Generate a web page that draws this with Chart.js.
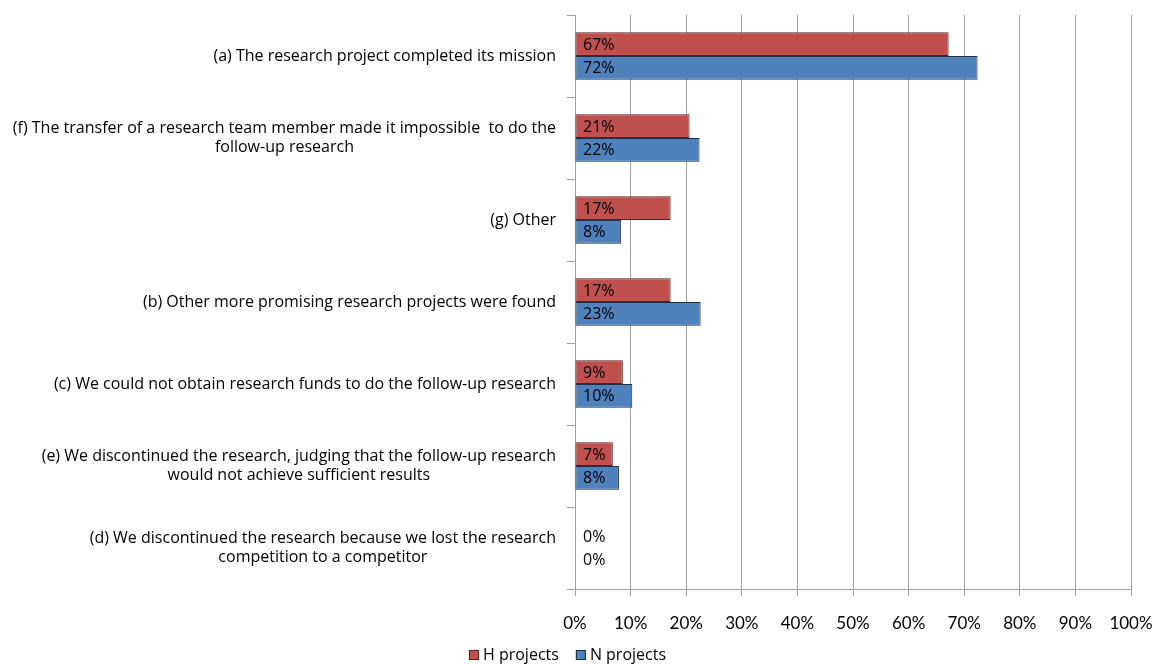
<!DOCTYPE html>
<html>
<head>
<meta charset="utf-8">
<script src="https://cdn.jsdelivr.net/npm/chart.js@4"></script>
<style>
  html, body { margin: 0; padding: 0; background: #fff; }
  #wrap { width: 1159px; height: 664px; }
</style>
</head>
<body>
<div id="wrap"><canvas id="chart"></canvas></div>
<script>
// categories (multi-line labels as in the source figure)
const categories = [
  ['(a) The research project completed its mission'],
  ['(f) The transfer of a research team member made it impossible  to do the', 'follow-up research'],
  ['(g) Other'],
  ['(b) Other more promising research projects were found'],
  ['(c) We could not obtain research funds to do the follow-up research'],
  ['(e) We discontinued the research, judging that the follow-up research', 'would not achieve sufficient results'],
  ['(d) We discontinued the research because we lost the research', 'competition to a competitor']
];
const hValues = [67.2, 20.6, 17.2, 17.2, 8.6, 6.8, 0];
const nValues = [72.4, 22.4, 8.3, 22.6, 10.3, 7.9, 0];
const hLabels = ['67%', '21%', '17%', '17%', '9%', '7%', '0%'];
const nLabels = ['72%', '22%', '8%', '23%', '10%', '8%', '0%'];
const xTicks = [0, 10, 20, 30, 40, 50, 60, 70, 80, 90, 100];

const FONT = 'Lato, "Open Sans", sans-serif';
const LABEL_FONT = '"Open Sans", Lato, sans-serif';

// left-side category text, right aligned block with centered lines
const categoryLabelsPlugin = {
  id: 'categoryLabels',
  afterDraw(chart) {
    const { ctx } = chart;
    const y = chart.scales.y;
    const right = chart.chartArea.left - 19;
    ctx.save();
    ctx.font = '16px ' + LABEL_FONT;
    ctx.fillStyle = '#000';
    ctx.textBaseline = 'middle';
    ctx.textAlign = 'center';
    const lh = 19;
    categories.forEach((lines, i) => {
      const cy = y.getPixelForValue(i);
      const w = Math.max(...lines.map(l => ctx.measureText(l).width));
      const cx = right - w / 2;
      const y0 = cy - (lines.length - 1) * lh / 2;
      lines.forEach((l, k) => ctx.fillText(l, cx, y0 + k * lh));
    });
    ctx.restore();
  }
};

// value labels at the inner start of each bar
const valueLabelsPlugin = {
  id: 'valueLabels',
  afterDatasetsDraw(chart) {
    const { ctx } = chart;
    const texts = [hLabels, nLabels];
    ctx.save();
    ctx.font = '16px ' + LABEL_FONT;
    ctx.fillStyle = '#000';
    ctx.textBaseline = 'middle';
    ctx.textAlign = 'left';
    chart.data.datasets.forEach((ds, di) => {
      chart.getDatasetMeta(di).data.forEach((bar, i) => {
        ctx.fillText(texts[di][i], chart.chartArea.left + 8, bar.y + 1);
      });
    });
    ctx.restore();
  }
};

// bottom legend, drawn by hand so the spacing matches the original
const bottomLegendPlugin = {
  id: 'bottomLegend',
  afterDraw(chart) {
    const { ctx } = chart;
    const ds = chart.data.datasets;
    ctx.save();
    ctx.font = '16px ' + LABEL_FONT;
    ctx.textBaseline = 'middle';
    ctx.textAlign = 'left';
    const box = 10, gap = 4, itemGap = 17;
    const widths = ds.map(d => box + gap + ctx.measureText(d.label).width);
    const total = widths.reduce((a, b) => a + b, 0) + itemGap * (ds.length - 1);
    let x = chart.width / 2 - 12 - total / 2;
    const cy = 655;
    ds.forEach((d, i) => {
      ctx.fillStyle = d.backgroundColor;
      ctx.fillRect(x, cy - box / 2, box, box);
      ctx.strokeStyle = d.borderColor;
      ctx.lineWidth = 1;
      ctx.strokeRect(x + 0.5, cy - box / 2 + 0.5, box - 1, box - 1);
      ctx.fillStyle = '#000';
      ctx.fillText(d.label, x + box + gap, cy);
      x += widths[i] + itemGap;
    });
    ctx.restore();
  }
};

new Chart(document.getElementById('chart'), {
  type: 'bar',
  data: {
    labels: categories.map(c => c.join(' ')),
    datasets: [
      {
        label: 'H projects',
        data: hValues,
        backgroundColor: '#C0504D',
        borderColor: '#5a1f1d',
        borderWidth: 1,
        borderSkipped: false,
        categoryPercentage: 0.58,
        barPercentage: 1
      },
      {
        label: 'N projects',
        data: nValues,
        backgroundColor: '#4F81BD',
        borderColor: '#1b2f4a',
        borderWidth: 1,
        borderSkipped: false,
        categoryPercentage: 0.58,
        barPercentage: 1
      }
    ]
  },
  options: {
    indexAxis: 'y',
    responsive: true,
    maintainAspectRatio: false,
    animation: false,
    layout: { padding: { top: 15, right: 28, bottom: 0, left: 0 } },
    plugins: {
      tooltip: { enabled: false },
      legend: { display: false }
    },
    scales: {
      x: {
        min: 0,
        max: 100,
        afterBuildTicks: (scale) => { scale.ticks = xTicks.map(v => ({ value: v })); },
        afterFit: (scale) => {
          scale.height = 75;
          scale.paddingLeft = 0;
          scale.paddingRight = 0;
        },
        ticks: {
          callback: (v) => v + '%',
          color: '#000',
          padding: 17,
          maxRotation: 0,
          font: { family: FONT, size: 17 }
        },
        grid: { color: '#a0a0a0', tickLength: 7, lineWidth: 1 },
        border: { color: '#a0a0a0' }
      },
      y: {
        afterFit: (scale) => { scale.width = 575; },
        ticks: { display: false },
        grid: { drawOnChartArea: false, offset: true, tickLength: 8, color: '#a0a0a0' },
        border: { color: '#a0a0a0' }
      }
    }
  },
  plugins: [categoryLabelsPlugin, valueLabelsPlugin, bottomLegendPlugin]
});
</script>
</body>
</html>
